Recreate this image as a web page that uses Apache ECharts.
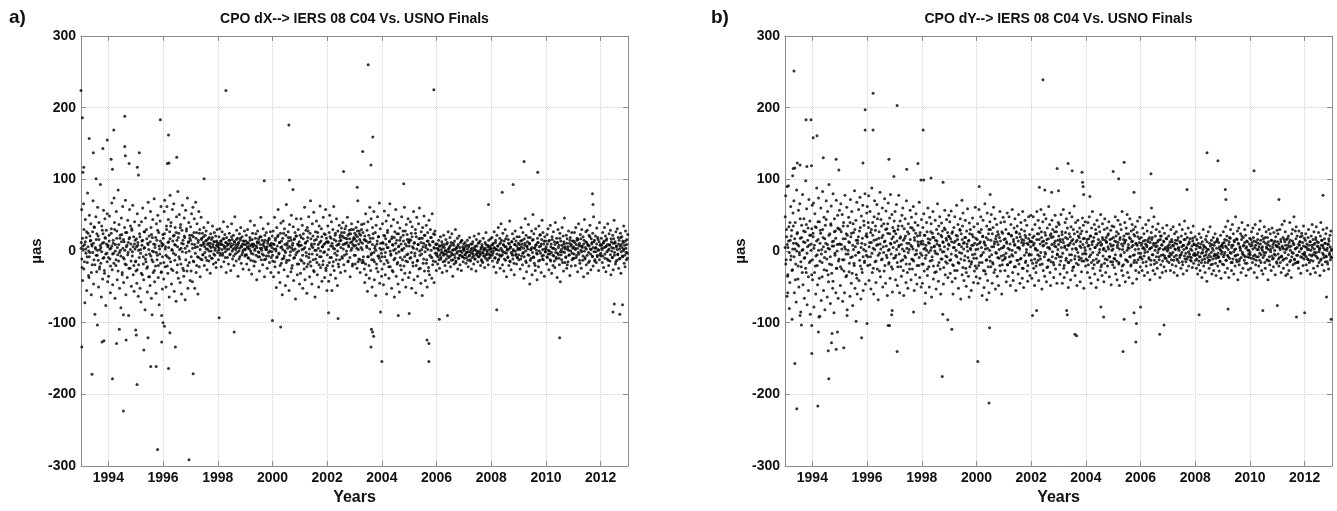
<!DOCTYPE html>
<html><head><meta charset="utf-8">
<script src="https://cdn.jsdelivr.net/npm/echarts@6/dist/echarts.min.js"></script>
<style>html,body{margin:0;padding:0;background:#fff}#c{width:1337px;height:511px}</style>
</head><body><div id="c"></div><script>
// ---------- tick labels / texts ----------
const yearTicks = [1994, 1996, 1998, 2000, 2002, 2004, 2006, 2008, 2010, 2012];
const titles = ['CPO dX--> IERS 08 C04 Vs. USNO Finals', 'CPO dY--> IERS 08 C04 Vs. USNO Finals'];
const panelTags = ['a)', 'b)'];

// ---------- dX (µas): one inner list per year, epochs evenly spaced in the year ----------
const dX_1993_1997 = [
 [12,58,-23,-41,7,66,30,-15,-72,44,3,19,-55,-8,81,25,-34,-37,50,-2,14,38,-61,9,-19,27,70,-46,-12,33,-88,5,48,16,-29,-6,61,21,-50,40,-25,2,93,-17,-64,35,11,-39,24,57,-9,-31,45,18,-76,29,-3,52,-43,8],
 [-35,22,49,-11,-58,4,31,67,-26,-47,15,-3,74,40,-66,9,-20,55,28,-40,-5,85,-14,37,-52,18,1,-79,46,23,-30,62,-9,-44,13,33,-18,71,-61,6,26,-37,43,-2,-90,17,58,-24,35,10,-49,29,-7,64,-33,20,-56,41,3,-15],
 [-28,17,-45,52,8,-63,-19,36,24,-52,2,-71,41,14,-33,60,-8,-40,27,5,-82,46,-15,30,-24,-57,11,68,-36,21,-4,-48,55,33,-66,-12,19,44,-30,-1,73,-43,9,-21,-59,38,15,-6,50,-37,26,-75,3,42,-17,62,-29,7,-53,23],
 [18,-39,55,71,-22,6,-50,35,62,-8,-31,44,13,-64,27,78,-15,40,-46,2,58,-27,21,66,-56,9,33,-5,-70,48,15,-19,83,-38,25,51,-11,-44,37,4,-60,29,64,-24,10,-35,46,19,-68,57,-2,31,-28,74,-52,12,40,-16,22,-41],
 [34,-28,52,10,-43,61,20,-15,45,-52,5,68,-30,26,38,-8,-60,15,55,-22,30,-36,8,47,18,-12,25,-5,12,33,-20,6,22,-9,28,15,-26,3,40,11,-14,19,7,-31,24,0,16,-10,35,9,-18,13,26,-6,4,21,-23,14,30,-2]
];
const dX_1998_2002 = [
 [8,-12,20,4,31,-6,14,-22,10,27,-3,17,41,-15,6,23,-9,12,-30,19,2,34,9,-18,15,25,-5,11,-27,7,38,16,-11,3,22,-20,13,48,-4,9,-14,29,5,18,-35,12,0,24,-8,15,33,-17,6,20,-2,-25,14,9,28,-7],
 [-5,14,22,-18,6,30,-9,11,-26,3,19,42,-13,8,-32,16,25,-4,10,-21,36,1,-15,24,7,-40,13,28,-8,17,-2,-28,20,9,47,-12,4,15,-19,31,-6,12,-36,22,5,-11,26,2,-24,14,38,-7,18,-16,8,27,-30,11,-1,21],
 [-14,28,-36,9,47,-22,15,3,-51,33,-8,20,58,-30,-3,12,-44,25,39,-17,6,-61,18,42,-10,-26,31,0,-48,22,65,-13,8,-35,27,14,-55,37,-6,19,-29,50,4,-20,11,34,-41,16,-9,26,-67,21,45,-2,-33,10,30,-18,7,-46],
 [22,-31,45,8,-14,36,-52,17,3,-25,61,-40,12,29,-7,-59,33,19,-18,48,-4,-36,25,70,-21,10,-46,38,5,-12,54,-29,15,-64,27,1,42,-16,-33,20,9,-50,35,-8,63,-23,14,31,-42,6,-19,47,-2,24,-37,11,58,-27,18,-55],
 [-20,35,12,-42,26,50,-9,-33,18,41,-55,7,30,-15,62,-27,3,22,-38,14,45,-6,-48,28,9,-22,36,-12,19,-30,15,32,-8,21,40,3,-19,26,10,-28,18,35,-4,12,47,22,-14,6,29,17,-36,24,1,38,13,-21,9,30,19,-6]
];
const dX_2003_2007 = [
 [25,-18,8,33,14,-24,20,41,2,-11,28,16,-30,22,5,37,-16,11,26,-8,38,-25,-44,15,52,-33,7,29,-56,41,-8,22,-38,61,13,-27,45,-3,-50,33,18,-12,55,-40,4,26,-62,36,-18,10,48,-29,20,-7,67,-45,31,-14,2,-35],
 [-25,38,11,-47,22,56,-8,-33,17,42,-60,5,29,-16,50,-38,13,66,-22,-4,35,-52,20,9,-29,44,-12,-64,27,3,58,-35,15,-18,40,-46,24,7,-57,32,-9,19,-26,48,1,-40,28,14,-21,61,-31,10,-50,37,-5,23,-15,45,-37,12],
 [16,-30,41,-9,25,-52,34,6,-21,55,-40,12,-3,30,-58,20,47,-14,-35,9,38,-25,60,-6,18,-45,27,2,-62,33,-17,11,49,-28,22,-41,5,36,-12,-50,26,14,-23,43,-33,8,30,-8,19,-38,52,-19,13,24,-44,4,28,-15,10,-27],
 [-6,10,-18,3,15,-12,-24,7,20,-9,-2,13,-30,6,-15,22,-4,9,-20,1,16,-11,-28,12,-7,27,-16,4,-1,19,-22,8,-13,24,-5,-35,11,2,-18,14,-9,30,-14,5,-3,18,-25,9,-10,21,-6,-19,12,0,-27,15,-8,6,-15,10],
 [3,-10,12,-5,-17,8,-2,15,-13,-22,6,-7,19,-1,-14,10,-25,4,-9,13,-4,-18,21,2,-11,7,-28,16,-6,0,-15,11,24,-8,-3,14,-20,5,-12,9,-2,-16,18,-7,3,-23,12,-10,26,-5,1,-13,8,-19,15,-4,6,-9,17,-1]
];
const dX_2008_2012 = [
 [8,19,-14,-3,11,-22,27,4,-9,15,-30,2,22,-16,7,33,-11,-5,18,-24,12,38,-7,1,-19,25,9,-28,14,-2,30,-13,6,-36,21,3,-8,16,-20,10,42,-15,5,-26,13,-4,24,-11,0,17,-33,9,28,-6,14,-18,20,-9,2,11],
 [-12,20,4,-25,14,33,-7,10,-19,26,-2,-38,17,8,45,-14,22,-29,6,13,-5,37,-21,11,-46,19,2,-10,28,-33,15,51,-8,24,-17,5,-27,31,9,-3,-40,18,12,-22,35,0,-13,23,7,-30,16,43,-11,26,-6,10,-35,20,-1,14],
 [6,-18,23,-9,31,1,-26,15,-4,36,-14,10,-31,20,4,-20,27,-7,13,-23,40,-2,-11,18,-37,12,30,-5,8,-19,25,-43,14,2,-12,33,-1,21,-28,10,46,-16,6,-9,22,-24,17,3,-15,28,-6,11,-34,19,7,-21,26,-3,14,-10],
 [14,-10,26,4,-20,33,9,-6,18,-29,16,38,-4,11,-17,23,1,-24,30,7,-13,20,-36,15,44,-9,5,27,-19,12,29,-31,8,-2,22,-14,36,3,-26,17,10,-7,25,-21,48,-1,15,-12,21,5,-16,32,-8,19,2,-27,13,40,-5,9],
 [-7,18,4,-16,26,11,-23,14,33,-4,21,-29,7,17,-11,38,1,-20,24,9,-14,29,-33,13,5,-9,22,-26,17,43,-2,11,-18,27,7,-13,31,-5,19,-24,15,3,-10,25,-31,9,20,-7,14,1,35,-17,8,-22,28,4,-12,16,-3,23]
];
// dX second (denser, near-zero) sampling, one list per year
const dXcore_1993_2002 = [
 [4,-11,18,2,-25,9,13,-3,27,-16,6,0,-8,21,15,-30,7,-2,11,34,-19,3,-6,24,1,-13,16,-22,8,5,-1,29,-10,12,-27,19,-4,10,-15,6],
 [-9,14,3,-21,25,7,-4,11,-17,30,0,-12,18,5,-28,9,-2,22,-7,13,-33,4,16,-11,1,26,-19,8,-5,12,-24,19,2,-14,31,-1,6,-20,10,15],
 [-14,6,-26,12,1,-9,20,-3,-31,8,15,-18,4,27,-11,-5,17,-22,9,2,-36,13,-7,23,0,-15,10,-27,5,19,-2,-12,29,-20,7,-4,14,-30,11,-8],
 [9,-16,24,3,-6,30,-21,12,5,-10,17,35,-25,1,14,-3,22,-13,8,26,-30,6,19,-8,2,33,-18,11,-1,15,-27,21,4,-12,28,7,-20,13,0,18],
 [15,-8,22,4,-14,26,9,-3,18,-20,6,12,-9,25,2,-11,16,8,-5,20,10,-2,14,3,-13,9,17,0,-7,11,5,-10,19,6,-4,13,1,-16,8,12],
 [6,1,11,-3,9,14,2,-6,8,17,4,-1,12,7,-9,10,3,15,-4,6,20,0,9,-7,13,5,2,16,-2,8,11,-11,4,18,7,-5,10,1,14,3],
 [2,9,-5,12,4,-10,7,15,0,-3,10,6,-14,8,3,18,-6,5,11,-1,13,-8,4,20,1,-4,9,7,-12,15,2,-7,6,11,-2,16,0,8,-9,5],
 [-6,10,3,-15,18,0,-9,7,22,-4,12,-20,5,14,-11,2,25,-7,9,-2,-16,11,4,19,-13,6,-1,15,-24,8,1,-10,17,3,-5,21,-18,9,0,13],
 [8,-12,19,2,-6,24,-17,5,11,-2,-22,14,28,-9,3,-15,17,7,-4,21,-27,10,1,-11,16,-5,26,4,-19,12,0,-8,20,6,-14,9,-1,23,-24,13],
 [-5,13,2,-16,20,7,-9,11,-21,4,16,-3,25,-12,8,0,-18,10,14,22,5,26,-10,9,19,-6,31,11,0,17,-15,8,24,-9,12,30,4,-18,16,7]
];
const dXcore_2003_2012 = [
 [17,-6,22,4,28,-15,10,24,-12,13,30,2,-13,-16,16,21,-18,14,5,-8,12,-20,3,18,-5,-12,9,24,-2,-15,7,1,-24,14,-7,20,-10,4,11,-3],
 [-8,12,3,-18,21,-2,9,-13,26,5,-22,14,0,-6,17,-27,8,1,19,-10,11,-3,24,-16,6,-1,15,-20,10,2,-12,22,4,-8,28,-14,7,16,-4,13],
 [7,-10,15,-2,20,-16,4,11,-7,25,-20,3,-13,9,17,0,-24,12,-4,18,6,-11,22,-1,8,-17,14,2,-28,10,-6,19,1,-9,13,-14,5,23,-3,9],
 [-3,4,-8,1,7,-5,-11,2,9,-2,-6,5,-14,0,-4,10,-1,3,-9,6,-7,12,-3,1,-12,8,-5,2,-16,4,-1,7,-10,0,5,-6,14,-2,-8,3],
 [1,-5,6,-2,-9,3,-1,8,-6,-12,2,-3,10,0,-7,5,-11,1,-4,7,-2,-8,12,0,-5,3,-14,6,-3,1,-7,4,9,-4,-1,6,-10,2,-6,4],
 [3,-6,9,0,5,-10,12,2,-4,7,-13,1,10,-7,4,15,-5,-1,8,-11,6,17,-3,1,-9,11,3,-14,6,-2,13,-6,2,-17,9,0,-4,7,-9,4],
 [-5,9,2,-11,6,15,-3,4,-8,11,0,-16,7,3,19,-6,10,-13,2,5,-2,16,-9,4,-20,8,1,-4,12,-14,6,22,-3,10,-7,2,-12,14,3,-1],
 [3,-8,10,-4,14,0,-12,6,-2,16,-6,4,-14,9,2,-9,12,-3,5,-10,18,-1,-5,8,-16,5,13,-2,3,-8,11,-19,6,1,-5,15,0,9,-12,4],
 [6,-4,12,2,-9,15,4,-2,8,-13,7,17,-1,5,-7,10,0,-11,13,3,-6,9,-16,7,20,-4,2,12,-8,5,13,-14,4,-1,10,-6,16,1,-12,8],
 [-3,8,2,-7,12,5,-10,6,15,-1,9,-13,3,8,-5,17,0,-9,11,4,-6,13,-15,6,2,-4,10,-11,7,19,-1,5,-8,12,3,-6,14,-2,9,-10]
];
// isolated dX points [year, µas]
const dX_outliers = [
 [1993.0,224],[1993.05,186],[1993.1,117],[1993.07,110],[1993.3,157],[1993.45,137],[1993.55,101],[1993.8,143],[1993.96,155],[1994.1,128],[1994.2,169],[1994.15,114],
 [1994.6,188],[1994.6,146],[1994.62,133],[1994.76,122],[1995.06,117],[1995.13,137],[1995.1,106],[1995.9,183],[1996.2,162],[1996.16,122],[1996.22,123],[1996.5,131],
 [1997.5,101],[1998.3,224],[1999.7,98],[2000.6,176],[2000.62,99],[2000.75,86],[2002.6,111],[2003.5,260],[2005.9,225],[2003.67,159],[2003.3,139],[2003.6,120],
 [2004.8,94],[2009.2,125],[2009.7,110],[2011.7,80],[2011.72,65],[2003.1,89],[2003.12,70],[2008.8,93],[2008.4,82],[2007.9,65],
 [1993.03,-134],[1993.4,-172],[1994.15,-178],[1994.55,-223],[1995.05,-186],[1995.8,-277],[1996.95,-291],[1995.55,-161],[1995.75,-161],[1996.2,-164],[1997.1,-171],
 [1995.3,-138],[1995.45,-121],[1996.45,-134],[1996.25,-114],[1995.95,-127],[1995.0,-110],[1995.02,-117],[1994.65,-124],[1994.4,-109],[1994.3,-129],[1993.77,-127],
 [1993.84,-125],[1993.6,-103],[1998.6,-113],[1998.05,-93],[2000.3,-106],[2000.0,-97],[2002.05,-86],[2002.4,-94],[1996.0,-100],[1996.05,-105],[1994.55,-89],
 [1995.6,-89],[1995.95,-90],[2003.6,-134],[2003.62,-109],[2003.66,-113],[2003.7,-119],[2004.0,-154],[2005.65,-124],[2005.72,-129],[2005.72,-154],[2010.5,-121],
 [2006.1,-95],[2006.4,-90],[2008.2,-82],[2012.5,-74],[2012.45,-85],[2012.7,-88],[2012.8,-75],[2004.6,-90],[2005.0,-87],[2003.95,-85]
];

// ---------- dY (µas) ----------
const dY_1993_1997 = [
 [48,77,-12,20,-63,-35,5,91,34,-80,-44,15,62,-7,29,-95,-26,53,11,70,-58,3,40,-18,-71,85,24,9,-39,57,-50,-2,66,18,-85,-22,36,1,79,-47,13,45,-66,-9,27,98,-30,59,-75,6,32,-55,72,-16,42,-88,22,10,-33,64],
 [-40,25,67,-78,8,52,-21,-60,33,88,-5,-47,16,74,-92,41,-14,29,60,-69,2,-36,83,19,-55,47,-9,-82,36,11,70,-27,-64,55,4,-43,93,-18,24,-73,38,63,-31,7,-52,80,14,-86,45,-3,28,-58,71,-24,9,50,-66,31,-11,57],
 [30,-48,66,9,-25,51,-70,17,40,-12,-58,78,3,-36,24,61,-82,35,-4,47,-29,12,-63,72,20,-45,55,-8,-76,38,26,-17,84,-52,6,43,-33,68,-60,15,-2,58,-41,28,75,-21,-67,49,11,-30,64,-55,2,36,-14,80,-46,21,-6,53],
 [62,-20,40,77,-41,12,55,-8,-53,30,88,-30,22,4,-60,48,70,-15,35,-44,16,65,-25,9,-68,52,27,-3,82,-36,44,-12,19,60,-50,6,38,-28,73,14,-45,56,-6,31,-62,25,67,-18,2,46,-38,79,10,-22,51,-57,33,20,-10,42],
 [28,55,-40,-6,65,14,-48,-22,35,78,8,-58,42,20,-14,-35,50,3,60,-27,-62,31,18,45,-9,-44,70,11,-30,-52,38,24,2,-18,57,33,-40,47,6,-25,-12,62,29,-55,15,40,-33,52,-4,-46,21,36,9,-20,68,-37,26,13,-50,44]
];
const dY_1998_2002 = [
 [-18,-45,33,10,52,-28,22,4,-58,-6,40,27,-34,60,12,-22,-50,47,16,1,38,-64,-13,25,55,-39,19,7,-30,43,-3,-53,30,14,66,-20,-42,35,8,48,-25,-60,22,39,-11,28,13,-46,-1,32,57,-33,-15,18,44,-8,26,-37,10,50],
 [20,41,-31,-12,56,13,-43,27,-60,-20,33,5,48,-38,-6,22,64,-27,16,37,-52,-17,9,30,45,-67,24,-3,-33,35,53,11,-41,-13,19,43,-24,-49,28,6,59,-9,-35,15,39,-22,30,2,-55,-15,23,46,8,-44,34,-28,-4,61,18,-36],
 [-24,9,38,-45,27,58,-16,-38,13,48,30,-5,-62,20,43,-27,-51,11,66,3,-32,-13,35,53,-41,16,24,-58,-8,41,30,-22,51,6,-45,-16,33,61,-30,13,45,-53,-2,21,37,-35,27,9,-48,-10,19,55,-28,40,4,-60,-19,25,47,-6],
 [16,41,-27,-9,30,-43,11,53,-19,-35,24,48,2,-16,-48,37,22,-5,58,-30,-41,13,32,8,45,-22,-55,27,19,35,-13,-32,51,5,24,-45,-11,40,30,16,-38,55,-24,-51,11,28,43,-16,19,-2,36,-28,-42,9,48,-6,23,-34,14,50],
 [-13,-38,30,19,48,-24,11,-48,37,2,-30,-16,55,24,-5,43,-41,16,32,-19,-11,58,27,-53,13,41,-27,8,51,-35,-2,22,45,-43,16,32,-22,-13,62,5,37,-30,-48,24,19,43,-8,30,-16,-37,11,27,50,-25,6,34,-45,-4,15,40]
];
const dY_2003_2007 = [
 [21,37,-19,-32,13,51,-8,27,-45,16,58,-24,-37,5,40,19,-13,45,-30,32,8,-51,-16,24,53,11,-40,34,-5,48,-27,16,30,-22,63,-11,-34,40,13,2,-48,27,43,-19,-8,19,32,-43,24,5,-29,-14,46,9,36,-52,18,-3,41,-21],
 [-11,27,16,-30,40,-19,8,48,-37,21,-5,-45,32,13,55,-24,-13,19,37,-32,5,30,-51,24,43,-16,-40,11,34,-2,27,-27,51,8,-19,-34,38,16,2,-43,30,45,-11,-30,19,13,32,-21,6,24,41,-36,-8,10,29,-47,17,35,-15,3],
 [19,34,-23,-11,48,-32,13,27,-40,8,43,24,-16,-48,16,37,-5,30,-27,55,2,-34,-19,21,11,40,-43,15,32,-13,51,-30,5,24,-37,19,45,-8,-21,28,13,37,-45,8,30,-16,-5,21,34,-27,10,-39,26,42,-12,3,-30,17,47,-22],
 [-8,19,11,-27,32,-16,5,24,-34,-2,15,37,-21,8,28,-30,13,43,-11,19,-40,4,-19,26,16,-5,34,-27,11,48,-13,-32,21,6,30,-16,-24,13,38,2,-8,27,-37,16,-19,21,8,-30,32,-5,14,-22,25,-10,3,-28,18,36,-14,7],
 [5,21,-16,-8,13,-27,30,-5,16,-19,8,34,-13,-30,24,11,2,-21,27,-11,-34,15,19,5,-16,37,-6,13,-24,21,-2,30,-19,-32,8,16,42,-11,24,-15,4,-27,19,-8,32,-21,11,-4,17,-13,26,-9,1,-23,14,35,-17,9,-3,20]
];
const dY_2008_2012 = [
 [-13,8,-24,16,-5,-32,11,-19,24,-8,-27,5,19,-16,-37,13,-2,30,-21,6,-11,-30,16,-5,21,-42,2,-16,27,-13,-24,11,34,-8,-19,15,-32,4,-11,19,-27,8,-4,24,-17,-34,13,-6,17,-21,-9,12,-28,3,-15,22,-38,7,-1,-18],
 [11,27,-19,-5,16,-30,34,-13,5,21,-24,42,-8,-37,13,19,-2,30,-16,-27,8,37,-11,24,-32,15,2,-21,48,-6,17,-15,28,-40,11,32,-19,-11,4,24,-30,16,40,-4,-24,19,8,-13,30,-8,22,-34,6,-17,13,36,-26,1,-9,18],
 [-5,-24,16,27,8,-16,32,19,-11,-30,5,37,-19,13,-8,-37,24,11,2,-21,30,-13,42,15,-5,-27,21,6,-32,17,-2,34,-16,-24,11,27,4,-13,19,-40,13,30,-8,-19,24,2,-27,15,32,-11,9,-22,26,-4,14,-33,20,7,-15,29],
 [13,24,-11,-21,5,30,-16,16,-30,-8,37,5,19,-24,-11,42,13,27,-34,2,16,-19,-32,8,21,-27,6,40,15,-13,-37,24,-2,30,-19,11,48,-11,-17,28,4,34,-16,21,-6,-15,-24,28,8,13,20,-31,3,25,-9,12,-20,35,-4,18],
 [-6,15,24,-19,5,-27,-11,19,30,2,-16,13,-32,-13,21,8,37,-5,16,-24,27,-2,11,-30,19,34,-8,13,-21,6,26,-16,2,-34,21,40,-11,15,-19,8,30,-5,-27,17,11,-15,24,-8,32,4,-18,10,-25,14,-3,22,-12,28,1,-9]
];
// dY second (denser, near-zero) sampling
const dYcore_1993_2002 = [
 [5,-18,30,9,-33,14,-2,40,-12,21,-27,3,35,-8,17,-40,11,0,26,-21,7,-5,45,-15,19,-30,2,28,-10,12,-24,37,-3,15,-36,8,22,-14,1,31],
 [-12,20,4,-30,34,-7,14,-20,41,1,-38,11,25,-4,-16,30,6,-26,17,-1,44,-11,9,-33,22,3,-8,36,-19,13,-42,7,27,-6,18,-24,0,32,-14,10],
 [10,-22,27,3,-12,35,-28,6,17,-4,-34,22,1,13,-17,40,-9,25,-31,8,2,-20,30,-6,15,-38,11,20,-2,-13,33,5,-25,18,-8,42,-16,9,0,24],
 [20,-8,33,6,-19,26,12,-3,40,-24,15,2,29,-14,8,45,-6,18,-28,10,3,35,-11,22,-2,13,-20,30,7,-9,38,1,-16,24,11,-4,17,-25,5,28],
 [12,-9,24,2,-16,30,6,-4,18,-22,9,35,-12,15,0,-7,21,-18,4,27,-2,11,-25,16,8,-11,32,3,-14,19,-5,25,1,-20,13,7,-9,22,-3,10],
 [-6,14,-18,3,22,-10,8,1,-25,17,-2,11,-14,27,5,-8,19,-21,6,0,15,-29,10,-4,24,-16,7,2,-11,20,-1,12,-23,6,30,-7,15,-17,3,21],
 [8,-13,17,-4,25,-19,5,12,-27,14,1,-8,21,-16,9,-2,29,-11,6,16,-23,3,12,-7,19,-30,10,0,14,-14,24,4,-18,8,-5,20,-10,11,-21,2],
 [-10,16,3,-20,11,26,-7,5,-16,21,-2,13,-28,8,19,-12,4,-22,30,1,-14,15,-5,24,-18,6,10,-26,17,-3,13,-9,23,2,-20,14,-7,27,-13,5],
 [7,-11,17,-3,13,-19,4,24,-8,10,-15,21,1,-7,16,-22,9,-2,26,-13,5,14,-18,3,20,-10,12,-24,8,15,-6,22,-14,2,11,-20,17,-4,13,6],
 [-5,13,-17,8,21,-11,4,-21,16,1,-13,24,-7,10,-2,19,-18,7,14,-8,26,-4,11,-23,5,17,-12,3,22,-15,9,-1,20,-19,7,14,-10,27,-5,2]
];
const dYcore_2003_2012 = [
 [9,-8,16,-14,5,23,-3,12,-20,7,26,-10,2,17,-16,8,-5,20,-13,14,3,-23,10,24,-7,4,-17,15,-2,21,-12,7,13,-10,28,-4,17,-14,5,1],
 [-4,12,-13,7,17,-8,3,21,-16,9,-2,14,-19,5,24,-11,8,-5,16,-14,2,13,-22,10,19,-7,4,-17,15,0,12,-12,22,3,-8,16,-15,7,1,-19],
 [8,-10,14,-5,21,-14,5,12,-18,3,19,-7,10,-21,7,16,-2,13,-12,24,1,-15,9,4,-8,17,-19,6,14,-6,23,-13,2,11,-16,8,20,-3,12,-9],
 [-3,8,-11,4,14,-7,2,10,-15,6,-1,16,-9,3,12,-13,5,19,-5,8,-18,1,11,-8,7,-2,15,-12,4,21,-6,9,-14,2,13,-7,5,-10,17,0],
 [2,-7,9,-3,5,-12,13,-2,7,-8,3,15,-6,10,-13,4,1,-9,12,-5,6,-15,8,2,-7,16,-3,5,-11,9,-1,13,-8,3,-14,7,18,-5,10,-6],
 [-6,3,-11,7,-2,-14,5,-8,10,-3,-12,2,8,-7,-16,5,-1,13,-9,2,-5,-13,7,-2,9,-18,1,-7,12,-6,-10,4,15,-3,-8,6,-14,1,-4,8],
 [5,-8,12,-2,7,-13,15,-6,2,9,-10,18,-3,5,-16,8,-1,13,-7,3,-12,16,-5,10,-14,6,1,-9,21,-2,7,-6,12,-17,4,14,-8,1,-4,10],
 [-2,7,-10,12,3,-7,14,-5,8,-13,2,16,-8,6,-3,10,-16,4,1,-9,13,-6,19,-2,6,-12,9,2,-14,7,-1,15,-7,5,-10,12,1,-6,8,-17],
 [6,-4,10,-9,2,13,-7,7,-13,3,16,-2,8,-10,4,18,-5,12,-15,1,7,-8,14,-3,9,-12,3,17,-6,5,-16,10,-1,13,-8,4,21,-4,7,-11],
 [-2,6,-8,10,2,-12,8,-5,13,1,-7,5,-14,9,3,-6,16,-2,7,-10,12,-1,4,-13,8,15,-3,5,-9,2,11,-7,1,-15,9,17,-5,6,-8,3]
];
const dY_outliers = [
 [1993.33,251],[1993.77,183],[1993.95,183],[1994.03,158],[1994.17,161],[1993.3,115],[1993.36,116],[1993.45,123],[1993.55,120],[1993.28,105],[1993.08,90],[1993.8,118],
 [1993.97,119],[1994.4,130],[1994.87,128],[1994.97,113],[1995.93,197],[1996.22,220],[1995.93,169],[1996.22,169],[1997.1,203],[1998.05,169],[1995.85,123],[1996.8,128],
 [1996.98,104],[1997.45,114],[1997.86,122],[1997.97,99],[1998.07,99],[1998.34,102],[1998.78,96],[2000.1,90],[2000.5,79],[1999.47,71],[2002.43,239],[2002.95,115],
 [2003.35,122],[2003.5,112],[2003.86,110],[2005.0,111],[2005.4,124],[2005.2,101],[2006.38,108],[2008.43,137],[2008.83,126],[2010.15,112],[2012.67,78],[2002.3,89],
 [2002.5,85],[2002.75,82],[2003.0,84],[2003.88,96],[2003.9,90],[2003.92,79],[2004.15,76],[2005.76,82],[2007.7,86],[2009.1,86],[2009.12,72],[2011.06,72],[2006.4,60],
 [1993.36,-157],[1993.43,-220],[1994.2,-216],[1993.98,-143],[1994.6,-178],[1994.58,-139],[1994.7,-128],[1994.72,-115],[1994.87,-137],[1994.92,-113],[1995.15,-135],
 [1994.22,-113],[1995.8,-121],[1997.1,-140],[1998.75,-175],[2000.05,-154],[2000.46,-212],[2000.48,-107],[1999.1,-109],[1998.95,-96],[1998.77,-88],[1996.0,-101],
 [1996.77,-104],[1996.82,-104],[1995.6,-98],[1995.27,-90],[1993.55,-90],[1993.6,-103],[1993.98,-104],[1994.27,-91],[1993.1,-58],[1996.9,-89],[1996.92,-83],[1997.7,-85],
 [1998.12,-73],[1999.73,-64],[2000.38,-68],[2003.6,-116],[2003.66,-118],[2005.36,-140],[2005.83,-127],[2005.85,-101],[2005.4,-95],[2006.7,-116],[2006.86,-103],
 [2008.14,-89],[2009.2,-81],[2010.47,-83],[2011.0,-76],[2011.7,-92],[2012.0,-86],[2012.97,-95],[2012.8,-64],[2002.05,-90],[2002.2,-83],[2003.3,-83],[2003.32,-89],
 [2004.65,-92],[2004.55,-78],[2005.76,-86],[2006.0,-78]
];

// ---------- build series data ----------
function addYears(pts, startYear, years, phase) {
  years.forEach((vals, k) => {
    vals.forEach((v, i) => pts.push([startYear + k + (i + phase) / vals.length, v]));
  });
}
function buildPoints(mainBlocks, coreBlocks, outliers) {
  const pts = [];
  mainBlocks.forEach(([y0, yrs]) => addYears(pts, y0, yrs, 0.5));
  coreBlocks.forEach(([y0, yrs]) => addYears(pts, y0, yrs, 0.2));
  outliers.forEach(p => pts.push(p));
  return pts;
}
const dXPoints = buildPoints(
  [[1993, dX_1993_1997], [1998, dX_1998_2002], [2003, dX_2003_2007], [2008, dX_2008_2012]],
  [[1993, dXcore_1993_2002], [2003, dXcore_2003_2012]], dX_outliers);
const dYPoints = buildPoints(
  [[1993, dY_1993_1997], [1998, dY_1998_2002], [2003, dY_2003_2007], [2008, dY_2008_2012]],
  [[1993, dYcore_1993_2002], [2003, dYcore_2003_2012]], dY_outliers);

// ---------- styling ----------
const FONT = '"Liberation Sans", Arial, Helvetica, sans-serif';
const FRAME = '#8c8c8c';
const TXT = '#111';
const gridBoxes = [
  {left: 81, top: 36, width: 547, height: 431},
  {left: 785, top: 36, width: 547, height: 431}
];

function xAxisFor(gi, top) {
  return {
    type: 'value', gridIndex: gi, min: 1993, max: 2013, position: top ? 'top' : 'bottom',
    axisLine: {show: true, onZero: false, lineStyle: {color: FRAME, width: 1}},
    axisTick: {show: true, inside: true, length: 5, customValues: yearTicks, lineStyle: {color: FRAME}},
    axisLabel: top ? {show: false} : {show: true, customValues: yearTicks, formatter: v => String(v), margin: 5, fontSize: 14, fontWeight: 'bold', color: TXT, fontFamily: FONT},
    splitLine: top ? {show: false} : {show: true, lineStyle: {color: '#d2d2d2', type: 'dotted', width: 1}},
    name: top ? '' : 'Years', nameLocation: 'middle', nameGap: 22,
    nameTextStyle: {fontSize: 16, fontWeight: 'bold', color: TXT, fontFamily: FONT}
  };
}
function yAxisFor(gi, right) {
  return {
    type: 'value', gridIndex: gi, min: -300, max: 300, interval: 100, position: right ? 'right' : 'left',
    axisLine: {show: true, onZero: false, lineStyle: {color: FRAME, width: 1}},
    axisTick: {show: true, inside: true, length: 5, lineStyle: {color: FRAME}},
    axisLabel: right ? {show: false} : {show: true, margin: 5, fontSize: 14, fontWeight: 'bold', color: TXT, fontFamily: FONT},
    splitLine: right ? {show: false} : {show: true, lineStyle: {color: '#d2d2d2', type: 'dotted', width: 1}},
    name: right ? '' : 'µas', nameLocation: 'middle', nameRotate: 90, nameGap: 32,
    nameTextStyle: {fontSize: 15, fontWeight: 'bold', color: TXT, fontFamily: FONT}
  };
}

const option = {
  animation: false,
  backgroundColor: '#fff',
  grid: gridBoxes.map(g => Object.assign({containLabel: false, show: false}, g)),
  xAxis: [xAxisFor(0, false), xAxisFor(0, true), xAxisFor(1, false), xAxisFor(1, true)],
  yAxis: [yAxisFor(0, false), yAxisFor(0, true), yAxisFor(1, false), yAxisFor(1, true)],
  graphic: [
    {type: 'text', x: 354.5, y: 19, style: {text: titles[0], textAlign: 'center', textVerticalAlign: 'middle', fontSize: 14, fontWeight: 'bold', fill: TXT, fontFamily: FONT}},
    {type: 'text', x: 1058.5, y: 19, style: {text: titles[1], textAlign: 'center', textVerticalAlign: 'middle', fontSize: 14, fontWeight: 'bold', fill: TXT, fontFamily: FONT}},
    {type: 'text', x: 9, y: 18, style: {text: panelTags[0], textAlign: 'left', textVerticalAlign: 'middle', fontSize: 19, fontWeight: 'bold', fill: TXT, fontFamily: FONT}},
    {type: 'text', x: 711, y: 18, style: {text: panelTags[1], textAlign: 'left', textVerticalAlign: 'middle', fontSize: 19, fontWeight: 'bold', fill: TXT, fontFamily: FONT}}
  ],
  series: [
    {type: 'scatter', xAxisIndex: 0, yAxisIndex: 0, data: dXPoints, symbol: 'circle', symbolSize: 3, itemStyle: {color: '#000'}, silent: true},
    {type: 'scatter', xAxisIndex: 2, yAxisIndex: 2, data: dYPoints, symbol: 'circle', symbolSize: 3, itemStyle: {color: '#000'}, silent: true}
  ]
};
const chart = echarts.init(document.getElementById('c'), null, {renderer: 'canvas'});
chart.setOption(option);
</script></body></html>
